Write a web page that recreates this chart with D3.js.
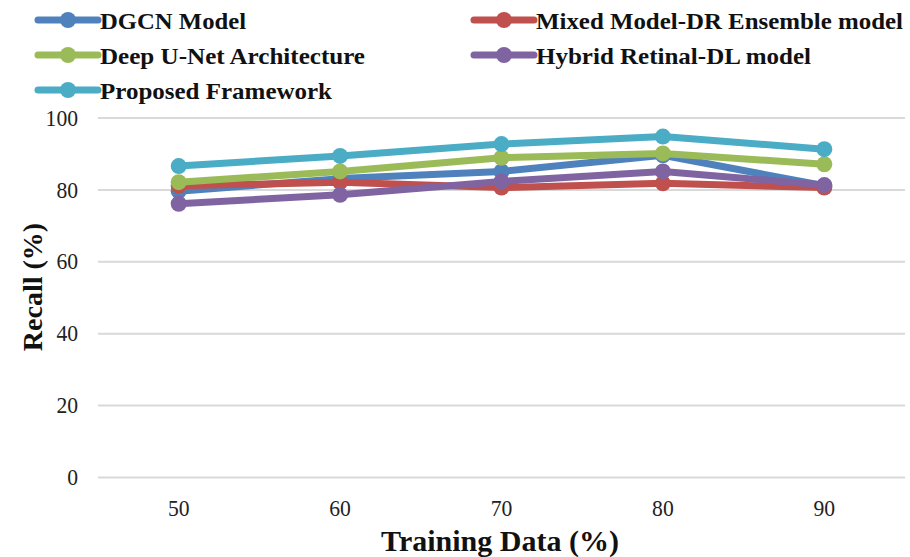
<!DOCTYPE html>
<html>
<head>
<meta charset="utf-8">
<script src="https://cdn.jsdelivr.net/npm/d3@7"></script>
<style>
  html, body { margin: 0; padding: 0; background: #fff; }
  svg { display: block; }
  svg text { font-family: "Liberation Serif", "Times New Roman", serif; }
</style>
</head>
<body>
<svg id="chart" width="910" height="557"></svg>
<script>
// Training data share (%) on the x axis
const trainingData = ["50", "60", "70", "80", "90"];
const yTicks = [0, 20, 40, 60, 80, 100];

// Recall (%) per model
const dgcn      = [79.5, 83.0, 85.0, 89.5, 81.0];
const mixedDR   = [81.0, 82.0, 80.5, 81.7, 80.5];
const deepUNet  = [82.0, 85.0, 88.8, 90.0, 87.0];
const hybridRet = [76.0, 78.5, 82.2, 85.0, 81.2];
const proposed  = [86.5, 89.3, 92.6, 94.7, 91.2];

const series = [
  { name: "DGCN Model", values: dgcn, color: "#4F81BD" },
  { name: "Mixed Model-DR Ensemble model", values: mixedDR, color: "#C0504D" },
  { name: "Deep U-Net Architecture", values: deepUNet, color: "#9BBB59" },
  { name: "Hybrid Retinal-DL model", values: hybridRet, color: "#8064A2" },
  { name: "Proposed Framework", values: proposed, color: "#4BACC6" }
];

const svg = d3.select("#chart");
const plot = { left: 98, right: 905, top: 117.5, bottom: 477 };

const x = d3.scaleBand().domain(trainingData).range([plot.left, plot.right]);
const y = d3.scaleLinear().domain([0, 100]).range([plot.bottom, plot.top]);

// Narrow a label horizontally, keeping its anchor
function condense(sel, k) {
  sel.each(function () {
    const w = this.getComputedTextLength();
    d3.select(this).attr("textLength", w * k).attr("lengthAdjust", "spacingAndGlyphs");
  });
}

// Horizontal gridlines with left tick labels
const yAxis = d3.axisLeft(y).tickValues(yTicks).tickSize(-(plot.right - plot.left)).tickPadding(20);
const gy = svg.append("g").attr("transform", `translate(${plot.left},0)`).call(yAxis);
gy.select(".domain").remove();
gy.selectAll(".tick line").attr("stroke", "#d9d9d9").attr("stroke-width", 2);
gy.selectAll(".tick text")
  .style("font-family", "'Liberation Serif', serif").attr("font-size", 24).attr("fill", "#222")
  .call(condense, 0.9);

// Category labels along the bottom
const xAxis = d3.axisBottom(x).tickSize(0).tickPadding(22);
const gx = svg.append("g").attr("transform", `translate(0,${plot.bottom})`).call(xAxis);
gx.select(".domain").remove();
gx.selectAll(".tick text")
  .style("font-family", "'Liberation Serif', serif").attr("font-size", 24).attr("fill", "#222")
  .call(condense, 0.9);

// Lines and markers
const line = d3.line()
  .x((d, i) => x(trainingData[i]) + x.bandwidth() / 2)
  .y(d => y(d));

series.forEach(s => {
  const g = svg.append("g");
  g.append("path")
    .datum(s.values)
    .attr("fill", "none")
    .attr("stroke", s.color)
    .attr("stroke-width", 7)
    .attr("stroke-linejoin", "round")
    .attr("d", line);
  g.selectAll("circle")
    .data(s.values)
    .join("circle")
    .attr("cx", (d, i) => x(trainingData[i]) + x.bandwidth() / 2)
    .attr("cy", d => y(d))
    .attr("r", 8)
    .attr("fill", s.color);
});

// Axis titles
svg.append("text")
  .attr("x", 500).attr("y", 551)
  .attr("text-anchor", "middle")
  .style("font-family", "'Liberation Serif', serif").attr("font-weight", "bold").attr("font-size", 30)
  .attr("fill", "#111")
  .text("Training Data (%)");

svg.append("text")
  .attr("transform", "translate(42,287) rotate(-90)")
  .attr("text-anchor", "middle")
  .style("font-family", "'Liberation Serif', serif").attr("font-weight", "bold").attr("font-size", 28)
  .attr("fill", "#111")
  .text("Recall (%)");

// Legend in two columns; label widths fixed per entry
const legendPos = [
  { x: 38, y: 20, w: 146 }, { x: 474, y: 20, w: 367 },
  { x: 38, y: 55, w: 265 }, { x: 474, y: 55, w: 275 },
  { x: 38, y: 90, w: 232 }
];
series.forEach((s, i) => {
  const p = legendPos[i];
  const g = svg.append("g").attr("transform", `translate(${p.x},${p.y})`);
  g.append("line")
    .attr("x1", 0).attr("x2", 60).attr("y1", 0).attr("y2", 0)
    .attr("stroke", s.color).attr("stroke-width", 7).attr("stroke-linecap", "round");
  g.append("circle").attr("cx", 30).attr("cy", 0).attr("r", 8).attr("fill", s.color);
  g.append("text")
    .attr("x", 62).attr("y", 9)
    .style("font-family", "'Liberation Serif', serif").attr("font-weight", "bold").attr("font-size", 24)
    .attr("textLength", p.w).attr("lengthAdjust", "spacingAndGlyphs")
    .attr("fill", "#111")
    .text(s.name);
});
</script>
</body>
</html>
